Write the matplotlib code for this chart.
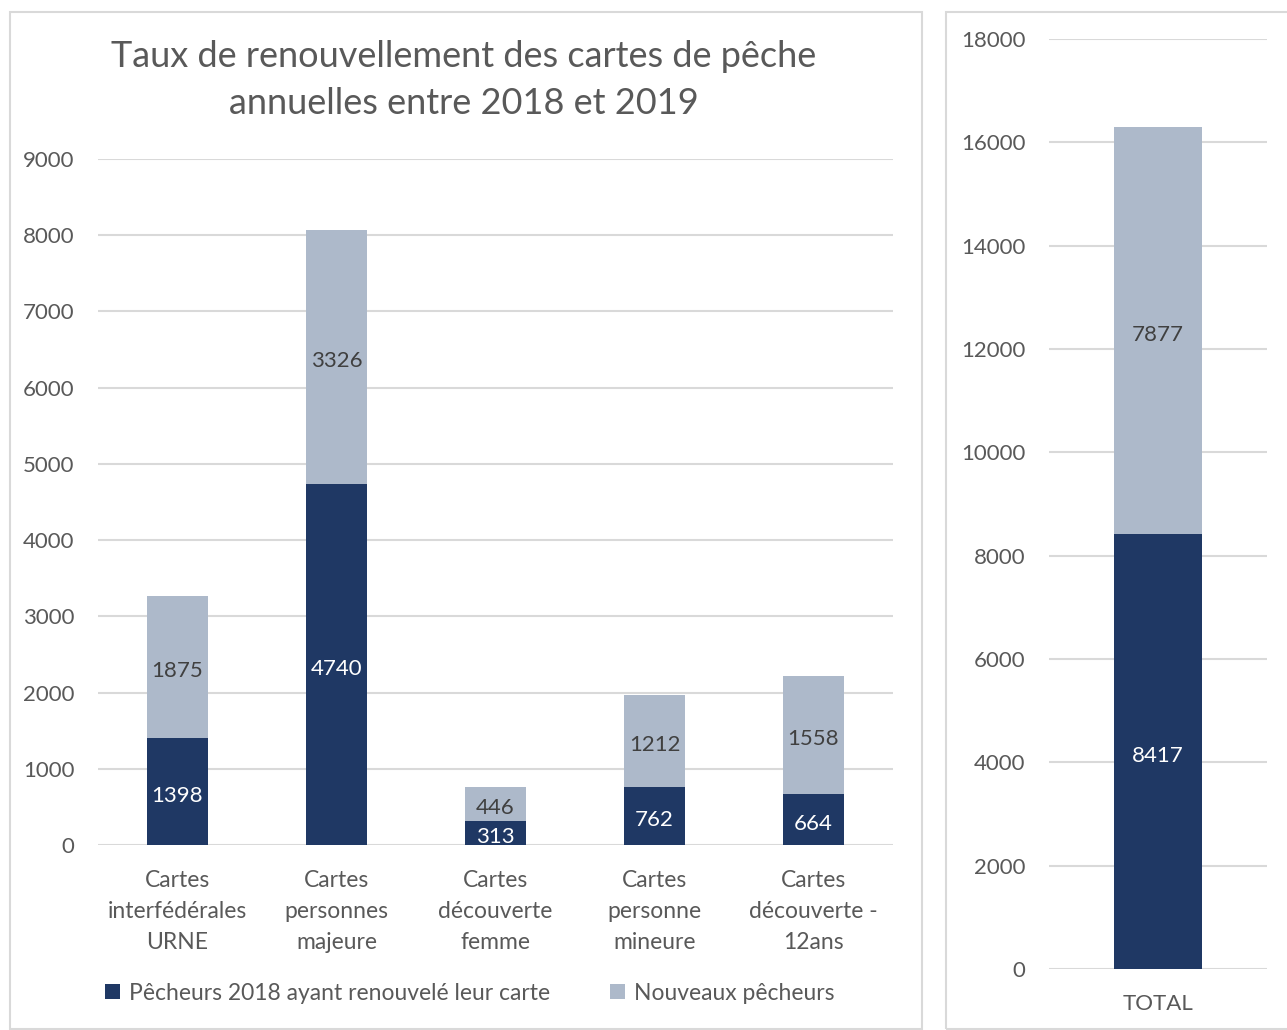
import matplotlib
matplotlib.use("Agg")
import matplotlib.pyplot as plt
from matplotlib.patches import Rectangle, Patch

plt.rcParams['font.family'] = ['Lato', 'DejaVu Sans']

categories = ["Cartes\ninterfédérales\nURNE", "Cartes\npersonnes\nmajeure",
              "Cartes\ndécouverte\nfemme", "Cartes\npersonne\nmineure",
              "Cartes\ndécouverte -\n12ans"]
renouvele = [1398, 4740, 313, 762, 664]
nouveaux = [1875, 3326, 446, 1212, 1558]
total_cat = ["TOTAL"]
total_renouvele = [8417]
total_nouveaux = [7877]
series_names = ["Pêcheurs 2018 ayant renouvelé leur carte", "Nouveaux pêcheurs"]
left_ticks = list(range(0, 10000, 1000))
right_ticks = list(range(0, 20000, 2000))

DARK = "#1F3864"
LIGHT = "#ADB9CA"
GRID = "#D9D9D9"
TXT = "#595959"

W, H = 1287, 1030
fig = plt.figure(figsize=(W / 100, H / 100), dpi=100)
fig.patch.set_facecolor("white")

def px(x0, y0, x1, y1):
    return [x0 / W, 1 - y1 / H, (x1 - x0) / W, (y1 - y0) / H]

# panel borders
fig.patches.append(Rectangle((10 / W, 1 - 1029 / H), 912 / W, 1017 / H, transform=fig.transFigure,
                             fill=False, edgecolor=GRID, linewidth=1.5))
fig.patches.append(Rectangle((946 / W, 1 - 1029 / H), 345 / W, 1017 / H, transform=fig.transFigure,
                             fill=False, edgecolor=GRID, linewidth=1.5))

def style(ax, ticks):
    for s in ax.spines.values():
        s.set_visible(False)
    ax.set_yticks(ticks)
    ax.set_yticklabels([str(t) for t in ticks])
    ax.yaxis.grid(True, color=GRID, linewidth=1.5)
    ax.set_axisbelow(True)
    ax.tick_params(axis='y', length=0, pad=17, labelsize=16, labelcolor=TXT)
    ax.tick_params(axis='x', length=0, pad=18, labelsize=16.5, labelcolor=TXT)

# left chart
ax = fig.add_axes(px(98, 159, 893, 845))
x = list(range(len(categories)))
b1 = ax.bar(x, renouvele, width=0.385, color=DARK, zorder=2)
b2 = ax.bar(x, nouveaux, width=0.385, bottom=renouvele, color=LIGHT, zorder=2)
ax.set_xlim(-0.5, len(categories) - 0.5)
ax.set_ylim(0, 9000)
style(ax, left_ticks)
ax.set_xticks(x)
ax.set_xticklabels(categories, linespacing=1.6)
ax.bar_label(b1, labels=[str(v) for v in renouvele], label_type='center', color="white", fontsize=16,
             padding=-3)
ax.bar_label(b2, labels=[str(v) for v in nouveaux], label_type='center', color="#404040", fontsize=16,
             padding=-3)

fig.text(464 / W, 1 - 80 / H, "Taux de renouvellement des cartes de pêche\nannuelles entre 2018 et 2019",
         ha='center', va='center', fontsize=26, color=TXT, linespacing=1.5)

handles = [Patch(facecolor=DARK), Patch(facecolor=LIGHT)]
fig.legend(handles, series_names, loc='center', bbox_to_anchor=(470 / W, 1 - 993 / H), ncol=2,
           frameon=False, fontsize=16.5, labelcolor=TXT, handlelength=0.65, handleheight=0.65,
           handletextpad=0.4, columnspacing=2.6)

# right chart
ax2 = fig.add_axes(px(1049, 39, 1267, 969))
t1 = ax2.bar([0], total_renouvele, width=0.4, color=DARK, zorder=2)
t2 = ax2.bar([0], total_nouveaux, width=0.4, bottom=total_renouvele, color=LIGHT, zorder=2)
ax2.set_xlim(-0.5, 0.5)
ax2.set_ylim(0, 18000)
style(ax2, right_ticks)
ax2.set_xticks([0])
ax2.set_xticklabels(total_cat)
ax2.tick_params(axis='x', pad=18, labelsize=16)
ax2.bar_label(t1, labels=[str(v) for v in total_renouvele], label_type='center', color="white", fontsize=16,
              padding=-3)
ax2.bar_label(t2, labels=[str(v) for v in total_nouveaux], label_type='center', color="#404040", fontsize=16,
              padding=-3)

fig.savefig("out.png", dpi=100)
